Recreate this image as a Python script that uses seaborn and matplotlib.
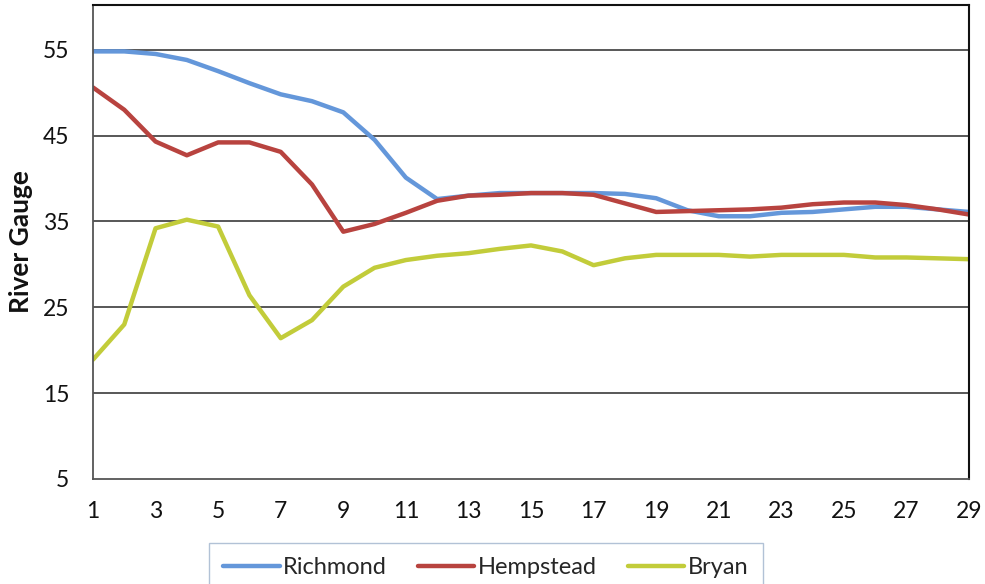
import numpy as np
import pandas as pd
import matplotlib
matplotlib.use("Agg")
import matplotlib.pyplot as plt
import seaborn as sns
from matplotlib.lines import Line2D

days = list(range(1, 30))
richmond = [54.8, 54.8, 54.5, 53.8, 52.5, 51.1, 49.8, 49.0, 47.7, 44.5,
            40.1, 37.6, 38.0, 38.3, 38.3, 38.3, 38.3, 38.2, 37.7, 36.3,
            35.6, 35.6, 36.0, 36.1, 36.4, 36.7, 36.7, 36.4, 36.1]
hempstead = [50.6, 48.0, 44.3, 42.7, 44.2, 44.2, 43.1, 39.3, 33.8, 34.7,
             36.0, 37.4, 38.0, 38.1, 38.3, 38.3, 38.1, 37.1, 36.1, 36.2,
             36.3, 36.4, 36.6, 37.0, 37.2, 37.2, 36.9, 36.4, 35.8]
bryan = [18.9, 23.0, 34.2, 35.2, 34.4, 26.4, 21.4, 23.5, 27.4, 29.6,
         30.5, 31.0, 31.3, 31.8, 32.2, 31.5, 29.9, 30.7, 31.1, 31.1,
         31.1, 30.9, 31.1, 31.1, 31.1, 30.8, 30.8, 30.7, 30.6]
series_names = ["Richmond", "Hempstead", "Bryan"]
x_ticks = list(range(1, 30, 2))
y_ticks = [5, 15, 25, 35, 45, 55]

df = pd.DataFrame({
    "Day": days * 3,
    "Gauge": richmond + hempstead + bryan,
    "Station": [series_names[0]] * 29 + [series_names[1]] * 29 + [series_names[2]] * 29,
})

sns.set_theme(style="white")
plt.rcParams['font.family'] = ['Lato', 'DejaVu Sans']

palette = {"Richmond": "#6497DA", "Hempstead": "#B8433F", "Bryan": "#C2CC3A"}

fig = plt.figure(figsize=(9.85, 5.84), dpi=100)
ax = fig.add_axes([0.0944, 0.1798, 0.8894, 0.8116])
sns.lineplot(data=df, x="Day", y="Gauge", hue="Station", palette=palette,
             linewidth=3.2, ax=ax, legend=False, sort=False)

ax.set_xlim(1, 29)
ax.set_ylim(5, 60.2)
ax.set_xticks(x_ticks)
ax.set_yticks(y_ticks)
ax.tick_params(axis='both', length=0, labelsize=16.5, colors='#111111')
ax.tick_params(axis='x', pad=16)
ax.tick_params(axis='y', pad=17)
ax.set_xlabel("")
ax.set_ylabel("River Gauge", fontsize=19, fontweight='bold', labelpad=7, color='#111111')
for y in [15, 25, 35, 45, 55]:
    ax.axhline(y, color='#4a4a4a', linewidth=1.3, zorder=0)
for s in ['top', 'right']:
    ax.spines[s].set_color('#111111')
    ax.spines[s].set_linewidth(1.5)
ax.spines['left'].set_color('#555555')
ax.spines['left'].set_linewidth(1.3)
ax.spines['bottom'].set_color('#555555')
ax.spines['bottom'].set_linewidth(1.3)

handles = [Line2D([0], [0], color=palette[n], linewidth=3.2) for n in series_names]
leg = fig.legend(handles, series_names, loc='upper left', bbox_to_anchor=(0.212, 0.0705),
                 ncol=3, fontsize=17, frameon=True, fancybox=False,
                 handlelength=2.4, handletextpad=0.15, columnspacing=1.3,
                 borderpad=0.6, borderaxespad=0)
leg.get_frame().set_edgecolor('#9fb3cc')
leg.get_frame().set_linewidth(1.0)

fig.savefig("out.png", dpi=100)
